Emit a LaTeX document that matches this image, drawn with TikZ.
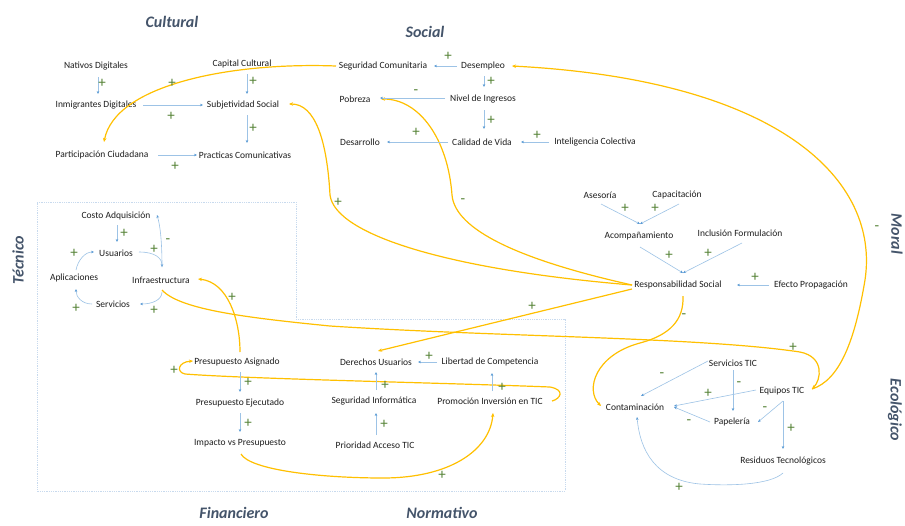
\documentclass[tikz,border=0pt]{standalone}
\usepackage{fontspec}
\setmainfont{Carlito}
\usetikzlibrary{arrows.meta,calc}
\definecolor{ttlc}{RGB}{68,84,106}
\definecolor{txtc}{RGB}{30,30,30}
\definecolor{sgnc}{RGB}{84,130,53}
\definecolor{bluc}{RGB}{157,195,230}
\definecolor{bluh}{RGB}{91,155,213}
\definecolor{yelc}{RGB}{255,192,0}
\definecolor{boxc}{RGB}{200,218,238}
\begin{document}
\begin{tikzpicture}[x=1pt,y=-1pt,
  lbl/.style={font=\fontsize{9.5}{11}\selectfont, text=txtc, inner sep=1pt},
  ttl/.style={font=\fontsize{16}{18}\selectfont\bfseries\itshape, text=ttlc, inner sep=0pt},
  sgn/.style={font=\fontsize{15}{15}\selectfont, text=sgnc, inner sep=0pt},
  blu/.style={draw=bluc, line width=0.6pt, -{Stealth[length=3pt,width=2.6pt,color=bluh]}},
  yel/.style={draw=yelc, line width=1.2pt, -{Stealth[length=4pt,width=3.5pt]}},
  frame/.style={draw=boxc, line width=0.8pt, densely dotted}
]
\fill[white] (0,0) rectangle (905,525);
\path[use as bounding box] (0,0) rectangle (905,525);

% frame
\draw[frame] (37,202) -- (296,202) -- (296,319) -- (565,319) -- (565,491) -- (37,491) -- cycle;

% titles
\node[ttl] (tcult) at (172,22) {Cultural};
\node[ttl] (tsoc) at (425,32) {Social};
\node[ttl, rotate=-90] (tmor) at (897,234) {Moral};
\node[ttl, rotate=90] (ttec) at (18,260) {Técnico};
\node[ttl, rotate=-90] (teco) at (895,410) {Ecológico};
\node[ttl] (tfin) at (234,513) {Financiero};
\node[ttl] (tnor) at (442,513) {Normativo};

% nodes
\node[lbl] (nat) at (96,66) {Nativos Digitales};
\node[lbl] (cap) at (242,64) {Capital Cultural};
\node[lbl] (inm) at (96,105) {Inmigrantes Digitales};
\node[lbl] (sub) at (243,105) {Subjetividad Social};
\node[lbl] (par) at (102,155) {Participación Ciudadana};
\node[lbl] (pra) at (245,155) {Practicas Comunicativas};
\node[lbl] (seg) at (383,66) {Seguridad Comunitaria};
\node[lbl] (des) at (483,66) {Desempleo};
\node[lbl] (pob) at (355,99) {Pobreza};
\node[lbl] (niv) at (483,99) {Nivel de Ingresos};
\node[lbl] (dsr) at (360,142) {Desarrollo};
\node[lbl] (cal) at (482,142) {Calidad de Vida};
\node[lbl] (int) at (595,142) {Inteligencia Colectiva};
\node[lbl] (ase) at (600,195) {Asesoría};
\node[lbl] (cpc) at (677,195) {Capacitación};
\node[lbl] (aco) at (639,236) {Acompañamiento};
\node[lbl] (inc) at (740,233) {Inclusión Formulación};
\node[lbl] (res) at (678,285) {Responsabilidad Social};
\node[lbl] (efe) at (811,285) {Efecto Propagación};
\node[lbl] (cos) at (116,216) {Costo Adquisición};
\node[lbl] (usu) at (116,253) {Usuarios};
\node[lbl] (apl) at (74,278) {Aplicaciones};
\node[lbl] (inf) at (161,280) {Infraestructura};
\node[lbl] (ser) at (113,304) {Servicios};
\node[lbl] (pas) at (237,362) {Presupuesto Asignado};
\node[lbl] (pej) at (240,403) {Presupuesto Ejecutado};
\node[lbl] (imp) at (240,443) {Impacto vs Presupuesto};
\node[lbl] (der) at (376,362) {Derechos Usuarios};
\node[lbl] (lib) at (490,362) {Libertad de Competencia};
\node[lbl] (sin) at (374,401) {Seguridad Informática};
\node[lbl] (pro) at (490,401) {Promoción Inversión en TIC};
\node[lbl] (pri) at (375,445) {Prioridad Acceso TIC};
\node[lbl] (stic) at (733,363) {Servicios TIC};
\node[lbl] (eq) at (782,391) {Equipos TIC};
\node[lbl] (con) at (635,407) {Contaminación};
\node[lbl] (pap) at (732,422) {Papelería};
\node[lbl] (rtec) at (783,461) {Residuos Tecnológicos};

% yellow curves
\draw[yel] ($(seg)+(-47,0)$) .. controls (230,62) and (115,85) .. ($(par)+(2,-13)$);
\draw[yel] ($(res)+(-46,0)$) .. controls (450,270) and (335,235) .. (330,195)
  .. controls (327,140) and (315,104) .. ($(sub)+(46,-1)$);
\draw[yel] ($(res)+(-46,0)$) .. controls (520,260) and (455,230) .. (452,195)
  .. controls (448,140) and (420,99) .. ($(pob)+(26,0)$);
\draw[yel] ($(res)+(-46,4)$) -- ($(der)+(2,-11)$);
\draw[yel] ($(res)+(5,11)$) .. controls (684,320) and (670,335) .. (640,343)
  .. controls (595,355) and (585,390) .. ($(con)+(-34,-1)$);
\draw[yel] ($(inf)+(1,10)$) .. controls (180,310) and (250,318) .. (330,326)
  .. controls (500,337) and (700,337) .. (800,352)
  .. controls (825,357) and (821,380) .. ($(eq)+(30,-2)$);
\draw[yel] ($(pas)+(3,-10)$) .. controls (240,320) and (228,282) .. ($(inf)+(37,-1)$);
\draw[yel] ($(pro)+(62,0)$) .. controls (560,399) and (566,390) .. (550,387)
  .. controls (450,383) and (250,379) .. (185,374)
  .. controls (176,372) and (178,362) .. ($(pas)+(-44,-1)$);
\draw[yel] ($(imp)+(1,11)$) .. controls (250,470) and (320,478) .. (383,478)
  .. controls (450,478) and (490,450) .. ($(pro)+(3,12)$);
\draw[yel] ($(eq)+(30,-2)$) .. controls (840,380) and (855,340) .. (865,280)
  .. controls (880,180) and (780,80) .. ($(des)+(29,0)$);

% blue arrows
\draw[blu] ($(nat)+(2,11)$) -- ($(inm)+(2,-11)$);
\draw[blu] ($(cap)+(5,10)$) -- ($(sub)+(4,-11)$);
\draw[blu] ($(inm)+(47,0)$) -- ($(sub)+(-40,0)$);
\draw[blu] ($(sub)+(4,10)$) -- ($(pra)+(2,-12)$);
\draw[blu] ($(par)+(56,0)$) -- ($(pra)+(-48,0)$);
\draw[blu] ($(des)+(-26,0)$) -- ($(seg)+(51,0)$);
\draw[blu] ($(des)+(1,10)$) -- ($(niv)+(1,-12)$);
\draw[blu] ($(niv)+(-38,-1)$) -- ($(pob)+(25,-1)$);
\draw[blu] ($(niv)+(1,11)$) -- ($(cal)+(2,-13)$);
\draw[blu] ($(cal)+(-34,0)$) -- ($(dsr)+(27,0)$);
\draw[blu] ($(int)+(-46,0)$) -- ($(cal)+(39,0)$);
\draw[blu] ($(ase)+(1,9)$) -- ($(aco)+(1,-12)$);
\draw[blu] ($(cpc)+(2,9)$) -- ($(aco)+(1,-12)$);
\draw[blu] ($(aco)+(1,11)$) -- ($(res)+(5,-12)$);
\draw[blu] ($(inc)+(2,10)$) -- ($(res)+(5,-12)$);
\draw[blu] ($(efe)+(-42,0)$) -- ($(res)+(59,0)$);
\draw[blu] ($(cos)+(1,9)$) -- ($(usu)+(1,-11)$);
\draw[blu] ($(usu)+(23,-1)$) .. controls (155,252) and (162,258) .. ($(inf)+(1,-13)$);
\draw[blu] ($(inf)+(1,-13)$) .. controls (162,240) and (160,225) .. ($(cos)+(41,-1)$);
\draw[blu] ($(inf)+(1,12)$) .. controls (162,300) and (152,304) .. ($(ser)+(27,0)$);
\draw[blu] ($(ser)+(-21,0)$) .. controls (82,304) and (76,297) .. ($(apl)+(2,11)$);
\draw[blu] ($(apl)+(2,-8)$) .. controls (78,260) and (85,252) .. ($(usu)+(-22,-1)$);
\draw[blu] ($(pas)+(3,10)$) -- ($(pej)+(0,-11)$);
\draw[blu] ($(pej)+(0,10)$) -- ($(imp)+(0,-11)$);
\draw[blu] ($(lib)+(-53,0)$) -- ($(der)+(42,0)$);
\draw[blu] ($(sin)+(2,-11)$) -- ($(der)+(0,10)$);
\draw[blu] ($(pri)+(1,-10)$) -- ($(sin)+(2,12)$);
\draw[blu] ($(pro)+(2,-10)$) -- ($(lib)+(2,11)$);
\draw[blu] ($(stic)+(-25,-2)$) -- ($(con)+(6,-11)$);
\draw[blu] ($(stic)+(0,7)$) -- ($(pap)+(1,-11)$);
\draw[blu] ($(eq)+(-26,-1)$) -- ($(con)+(39,-1)$);
\draw[blu] ($(pap)+(-22,0)$) -- ($(con)+(39,0)$);
\draw[blu] ($(eq)+(1,10)$) -- ($(pap)+(26,0)$);
\draw[blu] ($(eq)+(1,10)$) -- ($(rtec)+(0,-12)$);
\draw[blu] ($(rtec)+(0,12)$) .. controls (770,485) and (730,486) .. (700,484)
  .. controls (655,480) and (640,450) .. ($(con)+(2,10)$);

% polarity signs
\foreach \n/\x/\y/\t in {
  1/102/83/+, 2/172/83/+, 3/171/116/+, 4/253/81/+, 5/253/128/+, 6/175/166/+,
  7/448/56/+, 8/491/81/+, 9/416/92/-, 10/491/120/+, 11/416/132/+, 12/537/135/+,
  13/338/202/+, 14/463/201/-, 15/532/306/+,
  16/625/208/+, 17/655/208/+, 18/669/255/+, 19/708/253/+, 20/755/277/+,
  21/684/316/-, 22/877/228/-, 23/793/347/+,
  24/124/233/+, 25/154/249/+, 26/168/241/-, 27/154/310/+, 28/76/308/+, 29/74/253/+, 30/232/297/+,
  31/248/382/+, 32/248/423/+, 33/174/370/+,
  34/429/356/+, 35/385/385/+, 36/384/424/+, 37/502/387/+, 38/442/475/+,
  39/662/375/-, 40/739/384/-, 41/708/393/+, 42/689/422/-, 43/765/409/-, 44/791/428/+, 45/679/487/+}
  {\node[sgn] (s\n) at (\x,\y) {\t};}
\end{tikzpicture}
\end{document}
